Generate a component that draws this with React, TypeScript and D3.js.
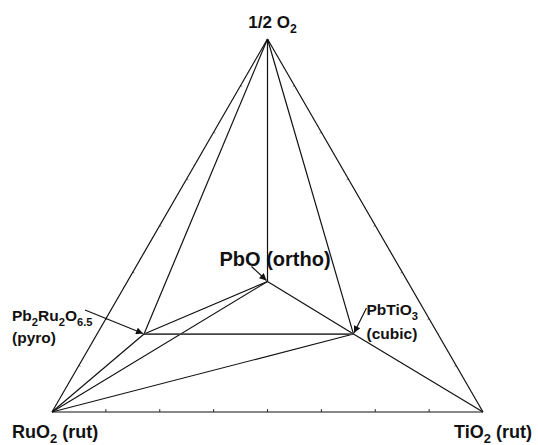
import React, { useRef, useEffect } from 'react';
import * as d3 from 'd3';

// phase compositions as ternary fractions (RuO2 - TiO2 - 1/2 O2 corners)
const phases = ['RuO2', 'TiO2', 'O2', 'PbO', 'Pb2Ru2O6.5', 'PbTiO3'];
const ruFraction = [1, 0, 0, 0.325, 0.682, 0.196];
const tiFraction = [0, 1, 0, 0.325, 0.109, 0.595];
const oFraction = [0, 0, 1, 0.35, 0.209, 0.209];

const tieLines: [string, string][] = [
	['RuO2', 'TiO2'],
	['RuO2', 'O2'],
	['TiO2', 'O2'],
	['O2', 'PbO'],
	['O2', 'Pb2Ru2O6.5'],
	['O2', 'PbTiO3'],
	['PbO', 'Pb2Ru2O6.5'],
	['PbO', 'PbTiO3'],
	['RuO2', 'Pb2Ru2O6.5'],
	['RuO2', 'PbO'],
	['RuO2', 'PbTiO3'],
	['TiO2', 'PbTiO3'],
];

const edgeTicks = [0.125, 0.25, 0.375, 0.5, 0.625, 0.75, 0.875];

// [text, subscript?]
type Seg = [string, boolean];
const labelO2: Seg[] = [['1/2 O', false], ['2', true]];
const labelRuO2: Seg[] = [['RuO', false], ['2', true], [' (rut)', false]];
const labelTiO2: Seg[] = [['TiO', false], ['2', true], [' (rut)', false]];
const labelPbO: Seg[] = [['PbO (ortho)', false]];
const labelPyro: Seg[] = [['Pb', false], ['2', true], ['Ru', false], ['2', true], ['O', false], ['6.5', true]];
const labelPerov: Seg[] = [['PbTiO', false], ['3', true]];

const App: React.FC = () => {
	const svgRef = useRef<SVGSVGElement | null>(null);

	useEffect(() => {
		const svg = d3.select(svgRef.current);
		svg.selectAll('*').remove();

		const xScale = d3.scaleLinear().domain([0, 1]).range([52, 483]);
		const yScale = d3.scaleLinear().domain([0, 1]).range([412, 39]);

		const pos: Record<string, [number, number]> = {};
		phases.forEach((p, i) => {
			const o = oFraction[i];
			const ti = tiFraction[i];
			pos[p] = [xScale(ti + o / 2), yScale(o)];
		});

		svg.append('defs')
			.append('marker')
			.attr('id', 'arrow')
			.attr('viewBox', '0 0 10 10')
			.attr('refX', 10)
			.attr('refY', 5)
			.attr('markerWidth', 9)
			.attr('markerHeight', 7)
			.attr('markerUnits', 'userSpaceOnUse')
			.attr('orient', 'auto')
			.append('path')
			.attr('d', 'M0,0L10,5L0,10Z')
			.attr('fill', '#111');

		const g = svg.append('g');

		// small inward ticks every 1/8 along the triangle edges
		const corners = ['RuO2', 'TiO2', 'O2'];
		const cx = d3.mean(corners, (c) => pos[c][0]) as number;
		const cy = d3.mean(corners, (c) => pos[c][1]) as number;
		const edges: [string, string][] = [
			['RuO2', 'TiO2'],
			['TiO2', 'O2'],
			['O2', 'RuO2'],
		];
		edges.forEach(([a, b], k) => {
			const [ax, ay] = pos[a];
			const [bx, by] = pos[b];
			const len = Math.hypot(bx - ax, by - ay);
			let nx = -(by - ay) / len;
			let ny = (bx - ax) / len;
			const mx = (ax + bx) / 2;
			const my = (ay + by) / 2;
			if ((cx - mx) * nx + (cy - my) * ny < 0) {
				nx = -nx;
				ny = -ny;
			}
			edgeTicks.forEach((t) => {
				const px = ax + t * (bx - ax);
				const py = ay + t * (by - ay);
				g.append('line')
					.attr('x1', px)
					.attr('y1', py)
					.attr('x2', px + nx * (k === 0 ? 3 : 2))
					.attr('y2', py + ny * (k === 0 ? 3 : 2))
					.attr('stroke', k === 0 ? '#333' : '#888')
					.attr('stroke-width', 1);
			});
		});

		g.selectAll('line.tie')
			.data(tieLines)
			.enter()
			.append('line')
			.attr('class', 'tie')
			.attr('x1', (d) => pos[d[0]][0])
			.attr('y1', (d) => pos[d[0]][1])
			.attr('x2', (d) => pos[d[1]][0])
			.attr('y2', (d) => pos[d[1]][1])
			.attr('stroke', '#111')
			.attr('stroke-width', 1.2);

		// the pyrochlore - perovskite tie line is drawn heavier
		g.append('line')
			.attr('x1', pos['Pb2Ru2O6.5'][0])
			.attr('y1', pos['Pb2Ru2O6.5'][1])
			.attr('x2', pos['PbTiO3'][0])
			.attr('y2', pos['PbTiO3'][1])
			.attr('stroke', '#444')
			.attr('stroke-width', 1.8);

		const addLabel = (segs: Seg[], x: number, y: number, size: number, anchor = 'start') => {
			const text = g
				.append('text')
				.attr('x', x)
				.attr('y', y)
				.attr('text-anchor', anchor)
				.attr('font-family', '"Liberation Sans", Arial, Helvetica, sans-serif')
				.attr('font-weight', 'bold')
				.attr('font-size', size)
				.attr('fill', '#111');
			let shifted = 0;
			segs.forEach(([s, sub]) => {
				const shift = sub ? size * 0.3 : 0;
				text.append('tspan')
					.attr('dy', shift - shifted)
					.attr('font-size', sub ? size * 0.72 : size)
					.text(s);
				shifted = shift;
			});
		};

		const addArrow = (x1: number, y1: number, x2: number, y2: number) => {
			g.append('line')
				.attr('x1', x1)
				.attr('y1', y1)
				.attr('x2', x2)
				.attr('y2', y2)
				.attr('stroke', '#111')
				.attr('stroke-width', 1.2)
				.attr('marker-end', 'url(#arrow)');
		};

		const [ox, oy] = pos['O2'];
		const [rx, ry] = pos['RuO2'];
		const [tx, ty] = pos['TiO2'];
		const [px, py] = pos['PbO'];
		const [yx, yy] = pos['Pb2Ru2O6.5'];
		const [vx, vy] = pos['PbTiO3'];

		addLabel(labelO2, ox + 5, oy - 11, 17, 'middle');
		addLabel(labelRuO2, rx - 40, ry + 26, 18);
		addLabel(labelTiO2, tx - 29, ty + 26, 18);
		addLabel(labelPbO, px - 48, py - 15, 20);
		addLabel(labelPyro, 12, yy - 13, 15.5);
		addLabel([['(pyro)', false]], 12, yy + 9, 15.5);
		addLabel(labelPerov, vx + 13, vy - 19, 15.5);
		addLabel([['(cubic)', false]], vx + 13, vy + 5, 15.5);

		addArrow(px - 16, py - 15, px - 1, py - 1);
		addArrow(85, yy - 24, yx - 1, yy - 0.5);
		addArrow(vx + 13, vy - 26, vx + 0.5, vy - 1);
	}, []);

	return (
		<svg
			ref={svgRef}
			width={538}
			height={445}
			style={{ position: 'absolute', left: 0, top: 0, background: '#fff' }}
		/>
	);
};

export default App;
